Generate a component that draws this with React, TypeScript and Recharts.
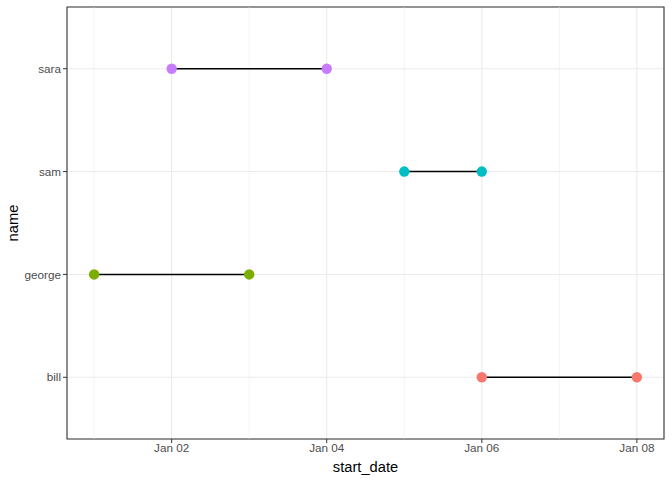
import {
  ScatterChart,
  Scatter,
  XAxis,
  YAxis,
  CartesianGrid,
  ReferenceLine,
  ReferenceArea,
} from 'recharts';

// one row per person, y position = index + 1 (bill at the bottom)
const names = ['bill', 'george', 'sam', 'sara'];
const startDay = [6, 1, 5, 2];
const endDay = [8, 3, 6, 4];
const colors = ['#F8766D', '#7CAE00', '#00BFC4', '#C77CFF'];

const xTicks = [2, 4, 6, 8];
const xTickLabels = ['Jan 02', 'Jan 04', 'Jan 06', 'Jan 08'];
const xMinorTicks = [1, 3, 5, 7];
const yTicks = [1, 2, 3, 4];

const font = '"Liberation Sans", Arial, Helvetica, sans-serif';
const tickStyle = { fontSize: 11.7, fill: '#4D4D4D', fontFamily: font };

const YTitle = (props: any) => {
  const vb = props.viewBox || {};
  const cx = 13;
  const cy = vb.y + vb.height / 2;
  return (
    <text
      x={cx}
      y={cy}
      transform={`rotate(-90 ${cx} ${cy})`}
      textAnchor="middle"
      dominantBaseline="central"
      fontSize={14.7}
      fontFamily={font}
      fill="#000"
    >
      name
    </text>
  );
};

const Dot = (props: any) => <circle cx={props.cx} cy={props.cy} r={5.2} fill={props.fill} />;

export default function App() {
  return (
    <div style={{ position: 'absolute', left: 0, top: 0, background: '#fff' }}>
      <ScatterChart width={672} height={480} margin={{ top: 7, right: 8, bottom: 0, left: 0 }}>
        <CartesianGrid stroke="#EBEBEB" strokeWidth={1.07} />
        {xMinorTicks.map((t) => (
          <ReferenceLine key={`minor-${t}`} x={t} stroke="#EBEBEB" strokeWidth={0.53} />
        ))}
        <XAxis
          type="number"
          dataKey="x"
          domain={[0.65, 8.35]}
          ticks={xTicks}
          allowDataOverflow
          tickFormatter={(v: number) => xTickLabels[xTicks.indexOf(v)]}
          axisLine={false}
          tickLine={{ stroke: '#333333' }}
          tickSize={4}
          tickMargin={1}
          tick={tickStyle}
          height={41}
          label={{
            value: 'start_date',
            position: 'insideBottom',
            offset: 8,
            style: { fontSize: 14.7, fill: '#000', fontFamily: font },
          }}
        />
        <YAxis
          type="number"
          dataKey="y"
          domain={[0.4, 4.6]}
          ticks={yTicks}
          allowDataOverflow
          tickFormatter={(v: number) => names[v - 1]}
          axisLine={false}
          tickLine={{ stroke: '#333333' }}
          tickSize={4}
          tickMargin={2}
          tick={tickStyle}
          width={67}
          label={<YTitle />}
        />
        {names.map((n, i) => (
          <Scatter
            key={n}
            name={n}
            data={[
              { x: startDay[i], y: i + 1 },
              { x: endDay[i], y: i + 1 },
            ]}
            fill={colors[i]}
            line={{ stroke: '#000', strokeWidth: 1.4 }}
            shape={<Dot />}
            isAnimationActive={false}
          />
        ))}
        <ReferenceArea
          x1={0.65}
          x2={8.35}
          y1={0.4}
          y2={4.6}
          fill="none"
          fillOpacity={0}
          stroke="#333333"
          strokeWidth={1.07}
        />
      </ScatterChart>
    </div>
  );
}
